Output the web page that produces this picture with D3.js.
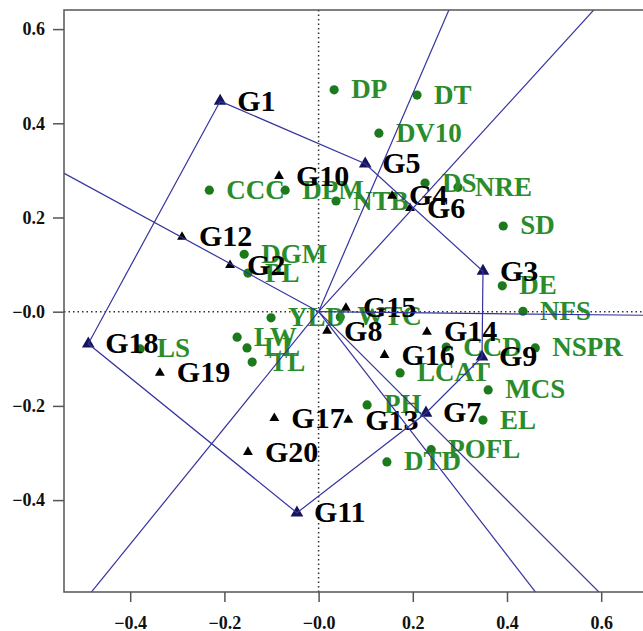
<!DOCTYPE html>
<html>
<head>
<meta charset="utf-8">
<script src="https://cdn.jsdelivr.net/npm/d3@7/dist/d3.min.js"></script>
<style>
  body { margin: 0; background: #fff; overflow: hidden; }
  svg { display: block; }
</style>
</head>
<body>
<script>
// genotypes (biplot scores, PC1 / PC2)
var genoNames = ["G1","G2","G3","G4","G5","G6","G7","G8","G9","G10",
                 "G11","G12","G13","G14","G15","G16","G17","G18","G19","G20"];
var genoX = [-0.209,-0.188,0.349,0.156,0.099,0.194,0.228,0.018,0.347,-0.084,
             -0.046,-0.290,0.063,0.230,0.058,0.140,-0.094,-0.489,-0.337,-0.150];
var genoY = [0.447,0.099,0.086,0.246,0.314,0.220,-0.215,-0.041,-0.096,0.288,
             -0.427,0.159,-0.230,-0.043,0.008,-0.092,-0.226,-0.068,-0.130,-0.298];

// traits
var traitNames = ["DP","DT","DV10","CCC","DPM","NTB","DS","NRE","SD","DE",
                  "NFS","NSPR","CCD","MCS","EL","LCAT","PH","POFL","DTD","YLD",
                  "WTC","LW","LL","TL","LS","DGM","PL"];
var traitX = [0.033,0.209,0.128,-0.232,-0.071,0.037,0.226,0.296,0.392,0.390,
              0.434,0.460,0.271,0.360,0.349,0.173,0.103,0.239,0.145,-0.101,
              0.046,-0.173,-0.152,-0.141,-0.379,-0.158,-0.150];
var traitY = [0.471,0.460,0.379,0.258,0.258,0.235,0.273,0.264,0.182,0.055,
              0.001,-0.077,-0.075,-0.166,-0.230,-0.130,-0.198,-0.293,-0.319,-0.013,
              -0.011,-0.054,-0.077,-0.107,-0.079,0.122,0.082];

// polygon vertices (which-won-where)
var hull = ["G1","G5","G3","G9","G7","G11","G18"];

// ticks
var xTicks = [-0.4,-0.2,0,0.2,0.4,0.6];
var xTickLabels = ["\u22120.4","\u22120.2","\u22120.0","0.2","0.4","0.6"];
var yTicks = [-0.4,-0.2,0,0.2,0.4,0.6];
var yTickLabels = ["\u22120.4","\u22120.2","\u22120.0","0.2","0.4","0.6"];

var width = 643, height = 631;
var pLeft = 64, pTop = 10, pBottom = 592, pRight = 700;
var serif = "'Liberation Serif','Times New Roman',serif";
var blue = "#34349f";

var svg = d3.select("body").append("svg")
    .attr("width", width)
    .attr("height", height);

var x = d3.scaleLinear().domain([-0.4, 0.6]).range([130.2, 601.2]);
var y = d3.scaleLinear().domain([-0.4, 0.6]).range([500.1, 29.1]);

svg.append("clipPath").attr("id", "plotclip")
  .append("rect")
    .attr("x", pLeft).attr("y", pTop)
    .attr("width", pRight - pLeft).attr("height", pBottom - pTop);

var plot = svg.append("g").attr("clip-path", "url(#plotclip)");

// zero lines
plot.append("line")
    .attr("x1", pLeft).attr("x2", pRight)
    .attr("y1", y(0)).attr("y2", y(0))
    .attr("stroke", "#333").attr("stroke-width", 1.5)
    .attr("stroke-dasharray", "1.5,3");
plot.append("line")
    .attr("x1", x(0)).attr("x2", x(0))
    .attr("y1", pTop).attr("y2", pBottom)
    .attr("stroke", "#333").attr("stroke-width", 1.5)
    .attr("stroke-dasharray", "1.5,3");

var genos = genoNames.map(function(n, i){ return {name: n, x: genoX[i], y: genoY[i]}; });
var traits = traitNames.map(function(n, i){ return {name: n, x: traitX[i], y: traitY[i]}; });

// trait points + labels
plot.selectAll(".tdot").data(traits).enter().append("circle")
    .attr("class", "tdot")
    .attr("cx", function(d){ return x(d.x); })
    .attr("cy", function(d){ return y(d.y); })
    .attr("r", 4.6)
    .attr("fill", "#1c7a1c");
plot.selectAll(".tlab").data(traits).enter().append("text")
    .attr("class", "tlab")
    .attr("x", function(d){ return x(d.x) + 17; })
    .attr("y", function(d){ return y(d.y) + 8.5; })
    .attr("font-family", serif)
    .attr("font-weight", "bold")
    .attr("font-size", 27)
    .attr("fill", "#2b8c2b")
    .text(function(d){ return d.name; });

// genotype points + labels
var tri = d3.symbol().type(d3.symbolTriangle);
plot.selectAll(".gpt").data(genos).enter().append("path")
    .attr("class", "gpt")
    .attr("transform", function(d){ return "translate(" + x(d.x) + "," + y(d.y) + ")"; })
    .attr("d", function(d){ return tri.size(hull.indexOf(d.name) >= 0 ? 70 : 42)(); })
    .attr("fill", function(d){ return hull.indexOf(d.name) >= 0 ? "#15155e" : "#000"; });
plot.selectAll(".glab").data(genos).enter().append("text")
    .attr("class", "glab")
    .attr("x", function(d){ return x(d.x) + 17; })
    .attr("y", function(d){ return y(d.y) + 9.5; })
    .attr("font-family", serif)
    .attr("font-weight", "bold")
    .attr("font-size", 30)
    .attr("fill", "#000")
    .text(function(d){ return d.name; });

// polygon
var hullPts = hull.map(function(n){ return genos[genoNames.indexOf(n)]; });
plot.append("path")
    .attr("d", d3.line().x(function(d){ return x(d.x); }).y(function(d){ return y(d.y); })(hullPts.concat([hullPts[0]])))
    .attr("fill", "none")
    .attr("stroke", blue)
    .attr("stroke-width", 1.2);

// rays from origin perpendicular to each polygon side
for (let i = 0; i < hullPts.length; i++) {
    let a = hullPts[i], b = hullPts[(i + 1) % hullPts.length];
    let dx = b.x - a.x, dy = b.y - a.y;
    let t = -(a.x * dx + a.y * dy) / (dx * dx + dy * dy);
    let fx = a.x + t * dx, fy = a.y + t * dy;
    let len = Math.sqrt(fx * fx + fy * fy);
    plot.append("line")
        .attr("x1", x(0)).attr("y1", y(0))
        .attr("x2", x(fx / len * 3)).attr("y2", y(fy / len * 3))
        .attr("stroke", blue)
        .attr("stroke-width", 1.2);
}

// frame
svg.append("path")
    .attr("d", "M" + pRight + "," + pTop + "H" + pLeft + "V" + pBottom + "H" + pRight)
    .attr("fill", "none")
    .attr("stroke", "#555")
    .attr("stroke-width", 1.5);

// axes
var yAxis = svg.append("g")
    .attr("transform", "translate(" + pLeft + ",0)")
    .call(d3.axisLeft(y).tickValues(yTicks).tickSize(11).tickPadding(8)
        .tickFormat(function(d, i){ return yTickLabels[i]; }));
var xAxis = svg.append("g")
    .attr("transform", "translate(0," + pBottom + ")")
    .call(d3.axisBottom(x).tickValues(xTicks).tickSize(10).tickPadding(14)
        .tickFormat(function(d, i){ return xTickLabels[i]; }));

[xAxis, yAxis].forEach(function(ax){
    ax.select(".domain").remove();
    ax.selectAll(".tick line").attr("stroke", "#555").attr("stroke-width", 1.5);
    ax.selectAll("text")
        .attr("font-family", serif)
        .attr("font-weight", "bold")
        .attr("font-size", 18)
        .attr("fill", "#111");
});
</script>
</body>
</html>
